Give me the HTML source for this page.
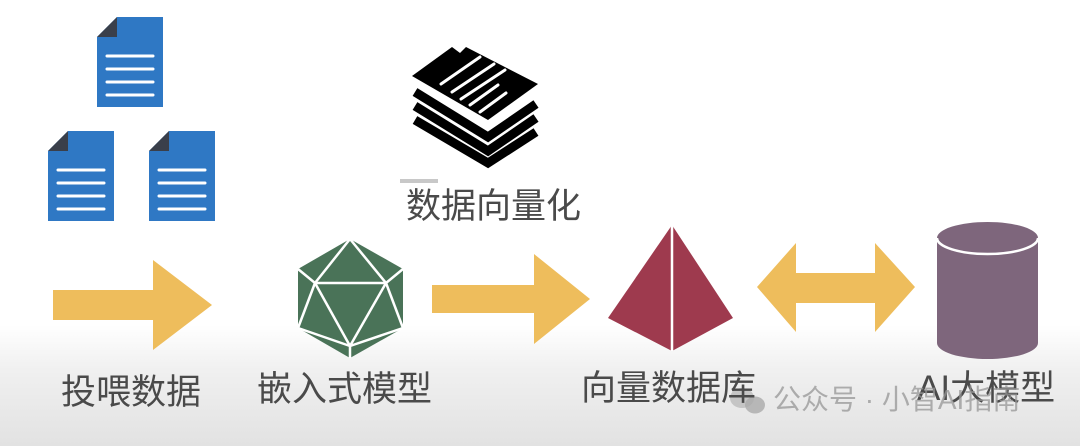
<!DOCTYPE html>
<html><head><meta charset="utf-8"><style>
html,body{margin:0;padding:0}
body{width:1080px;height:446px;overflow:hidden;position:relative;background:linear-gradient(#fff 0,#fff 325px,#f0f0f0 370px,#e2e2e2 446px);font-family:"Liberation Sans","Noto Sans CJK SC",sans-serif}
.l{position:absolute;font-size:35px;color:#4a4a4a;white-space:nowrap;line-height:1}
</style></head><body>
<svg width="1080" height="446" style="position:absolute;left:0;top:0">
<defs>
<g id="doc">
<path d="M20 0 H66 V90 H0 V20 Z" fill="#2f78c4"/>
<path d="M0 20 L20 0 V20 Z" fill="#3a3f4a"/>
<g stroke="#fff" stroke-width="3" stroke-linecap="round"><line x1="10" y1="39" x2="56" y2="39"/><line x1="10" y1="52" x2="56" y2="52"/><line x1="10" y1="65" x2="56" y2="65"/><line x1="10" y1="78" x2="56" y2="78"/></g>
</g>
</defs>
<use href="#doc" x="97" y="17"/>
<use href="#doc" x="48" y="131"/>
<use href="#doc" x="149" y="131"/>
<!-- stack -->
<g fill="none" stroke="#000" stroke-width="9" stroke-linejoin="miter">
<polyline points="415,92 488,137 536,104"/>
<polyline points="415,106 488,151 536,118"/>
<polyline points="415,120 488,163 536,132"/>
</g>
<polygon points="412,76 452,47 466,47 538,84 488,120" fill="#000"/>
<polygon points="452,47 466,47 460,53" fill="#fff"/>
<g stroke="#fff" stroke-width="3" stroke-linecap="round">
<line x1="441" y1="84" x2="480" y2="57"/><line x1="452" y1="92" x2="494" y2="64"/><line x1="461" y1="99" x2="505" y2="70"/><line x1="470" y1="105" x2="498" y2="85"/><line x1="480" y1="112" x2="506" y2="93"/>
</g>
<rect x="400" y="179" width="38" height="4" fill="#c8c8c8"/>
<!-- arrows -->
<polygon points="53,290 153,290 153,260 212,305 153,350 153,320 53,320" fill="#eebd5c"/>
<polygon points="432,285 534,285 534,254 590,299 534,344 534,313 432,313" fill="#eebd5c"/>
<polygon points="757,287 796,243 796,273 875,273 875,243 915,287 875,332 875,303 796,303 796,332" fill="#eebd5c"/>
<!-- icosahedron -->
<polygon points="350,239 403,269 403,328 350,358 298,328 298,269" fill="#4a7358"/>
<g stroke="#fff" stroke-width="2.5" fill="none" stroke-linejoin="round">
<polygon points="315,283 386,283 350,346"/>
<polyline points="350,239 315,283 298,269"/><polyline points="350,239 386,283 403,269"/>
<line x1="315" y1="283" x2="298" y2="328"/><line x1="386" y1="283" x2="403" y2="328"/>
<polyline points="298,328 350,346 403,328"/><line x1="350" y1="346" x2="350" y2="358"/>
</g>
<!-- pyramid -->
<polygon points="672,225 733,318 672,351 608,318" fill="#9e3a4e"/>
<line x1="672" y1="225" x2="672" y2="351" stroke="#fff" stroke-width="2.5"/>
<!-- cylinder -->
<path d="M937 238 A50.5 16 0 0 1 1038 238 V343 A50.5 16 0 0 1 937 343 Z" fill="#7e667c"/>
<path d="M937 238 A50.5 16 0 0 0 1038 238" fill="none" stroke="#fff" stroke-width="2.5"/>
<!-- wechat icon -->
<ellipse cx="742" cy="398" rx="12" ry="10" fill="#bbb" opacity=".8"/>
<ellipse cx="755" cy="405" rx="10" ry="8.5" fill="#aaa" opacity=".8"/>
</svg>
<div class="l" style="left:406px;top:189px">数据向量化</div>
<div class="l" style="left:61px;top:375px">投喂数据</div>
<div class="l" style="left:257px;top:372px">嵌入式模型</div>
<div class="l" style="left:581px;top:371px">向量数据库</div>
<div class="l" style="left:917px;top:371px">AI大模型</div>
<div class="l" style="left:773px;top:386px;font-size:28px;color:rgba(150,150,150,.75)">公众号 · 小智AI指南</div>
</body></html>
